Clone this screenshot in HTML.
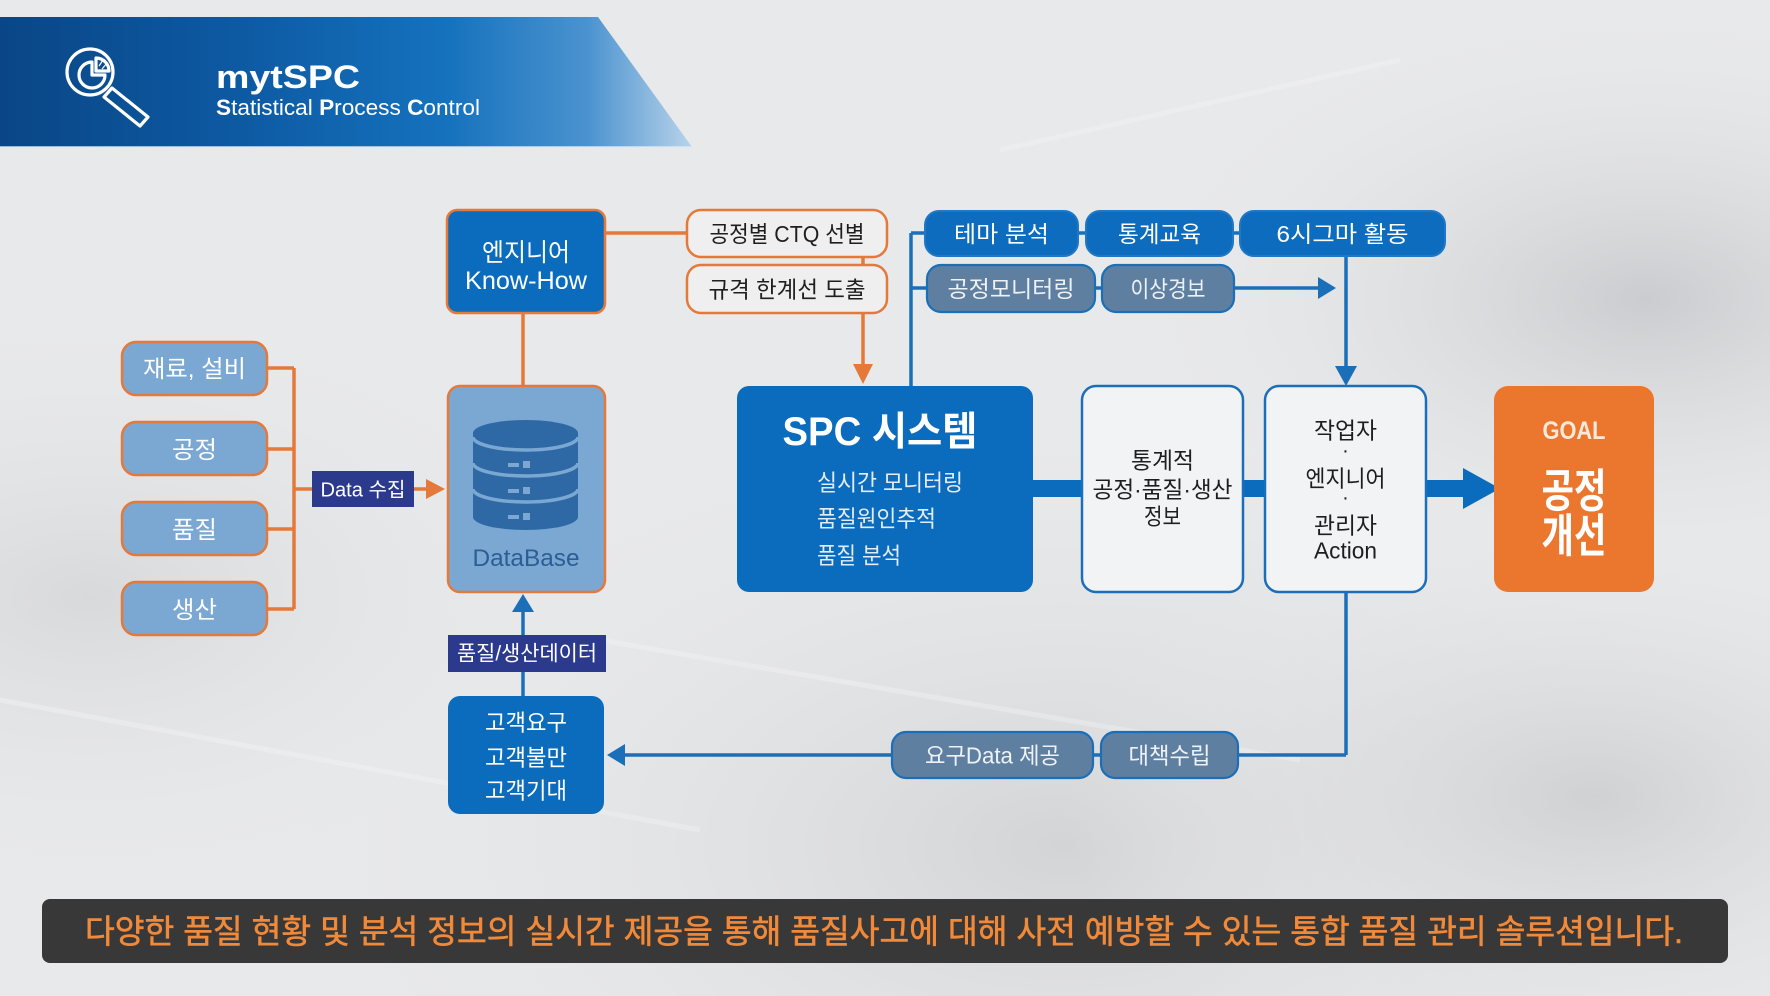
<!DOCTYPE html>
<html>
<head>
<meta charset="utf-8">
<style>
  html,body{margin:0;padding:0;background:#e8e9eb;}
  body{width:1770px;height:996px;overflow:hidden;}
  svg{display:block;}
  text{font-family:"Liberation Sans","Noto Sans CJK KR",sans-serif;}
  .w{fill:#ffffff;}
  .k{fill:#1e1e1e;}
</style>
</head>
<body>
<svg width="1770" height="996" viewBox="0 0 1770 996" xmlns="http://www.w3.org/2000/svg">
  <defs>
    <linearGradient id="hdr" x1="0" y1="0" x2="1" y2="0">
      <stop offset="0" stop-color="#0a4686"/>
      <stop offset="0.35" stop-color="#0d5aa3"/>
      <stop offset="0.65" stop-color="#1672bd"/>
      <stop offset="0.85" stop-color="#4b93cf"/>
      <stop offset="1" stop-color="#b9d3ea"/>
    </linearGradient>
    <radialGradient id="bg1" cx="0.93" cy="0.3" r="0.3">
      <stop offset="0" stop-color="#cbcccf"/>
      <stop offset="1" stop-color="#e8e9eb" stop-opacity="0"/>
    </radialGradient>
    <radialGradient id="bg2" cx="0.6" cy="0.85" r="0.45">
      <stop offset="0" stop-color="#d3d4d6"/>
      <stop offset="1" stop-color="#e8e9eb" stop-opacity="0"/>
    </radialGradient>
    <radialGradient id="bg3" cx="0.05" cy="0.6" r="0.3">
      <stop offset="0" stop-color="#d8d9db"/>
      <stop offset="1" stop-color="#e8e9eb" stop-opacity="0"/>
    </radialGradient>
    <radialGradient id="bg4" cx="0.9" cy="0.8" r="0.3">
      <stop offset="0" stop-color="#d0d1d3"/>
      <stop offset="1" stop-color="#e8e9eb" stop-opacity="0"/>
    </radialGradient>
  </defs>

  <!-- background -->
  <rect x="0" y="0" width="1770" height="996" fill="#e8e9eb"/>
  <rect x="0" y="0" width="1770" height="996" fill="url(#bg1)"/>
  <rect x="0" y="0" width="1770" height="996" fill="url(#bg2)"/>
  <rect x="0" y="0" width="1770" height="996" fill="url(#bg3)"/>
  <rect x="0" y="0" width="1770" height="996" fill="url(#bg4)"/>
  <g stroke="#f6f6f7" stroke-width="5" opacity="0.35" fill="none">
    <line x1="0" y1="700" x2="700" y2="830"/>
    <line x1="600" y1="640" x2="1300" y2="760"/>
    <line x1="1000" y1="150" x2="1400" y2="60"/>
  </g>

  <!-- header banner -->
  <polygon points="0,17 598,17 692,147 0,147" fill="url(#hdr)"/>
  <line x1="0" y1="147" x2="692" y2="147" stroke="#dfe9f3" stroke-width="2" opacity="0.7"/>
  <!-- magnifier icon -->
  <g fill="none" stroke="#ffffff" stroke-width="3.2" stroke-linejoin="round" stroke-linecap="round">
    <circle cx="90" cy="72" r="23"/>
    <path d="M92,62 A13,13 0 1,0 105,75 L92,75 Z"/>
    <path d="M96,58 A13,13 0 0,1 109,71 L96,71 Z"/>
    <polygon points="104,97 112,88 148,117 140,126"/>
  </g>
  <g stroke="#ffffff" stroke-width="1.2">
    <line x1="99" y1="66" x2="103" y2="60"/>
    <line x1="102" y1="69" x2="107" y2="63"/>
  </g>
  <text x="216" y="88" font-size="32" font-weight="bold" class="w" textLength="144" lengthAdjust="spacingAndGlyphs">mytSPC</text>
  <text x="216" y="115" font-size="22" class="w" textLength="264" lengthAdjust="spacingAndGlyphs"><tspan font-weight="bold">S</tspan>tatistical <tspan font-weight="bold">P</tspan>rocess <tspan font-weight="bold">C</tspan>ontrol</text>

  <!-- ========== orange connectors ========== -->
  <g stroke="#e4793a" stroke-width="3.5" fill="none">
    <line x1="294" y1="368" x2="294" y2="609"/>
    <line x1="267" y1="368" x2="294" y2="368"/>
    <line x1="267" y1="449" x2="294" y2="449"/>
    <line x1="267" y1="529" x2="294" y2="529"/>
    <line x1="267" y1="609" x2="294" y2="609"/>
    <line x1="294" y1="489" x2="312" y2="489"/>
    <line x1="414" y1="489" x2="428" y2="489"/>
    <line x1="523" y1="313" x2="523" y2="386"/>
    <line x1="605" y1="233" x2="687" y2="233"/>
    <line x1="863" y1="257" x2="863" y2="265"/>
    <line x1="863" y1="313" x2="863" y2="366"/>
  </g>
  <polygon points="426,479 445,489 426,499" fill="#e4793a"/>
  <polygon points="853,364 873,364 863,384" fill="#e4793a"/>

  <!-- ========== blue connectors ========== -->
  <g stroke="#1b6fb9" stroke-width="3.5" fill="none">
    <line x1="911" y1="233" x2="911" y2="386"/>
    <line x1="911" y1="233" x2="925" y2="233"/>
    <line x1="911" y1="288" x2="927" y2="288"/>
    <line x1="1078" y1="233" x2="1086" y2="233"/>
    <line x1="1233" y1="233" x2="1240" y2="233"/>
    <line x1="1095" y1="288" x2="1102" y2="288"/>
    <line x1="1234" y1="288" x2="1320" y2="288"/>
    <line x1="1346" y1="255" x2="1346" y2="368"/>
    <line x1="1346" y1="592" x2="1346" y2="755"/>
    <line x1="1238" y1="755" x2="1346" y2="755"/>
    <line x1="1093" y1="755" x2="1101" y2="755"/>
    <line x1="620" y1="755" x2="892" y2="755"/>
    <line x1="523" y1="608" x2="523" y2="696"/>
  </g>
  <polygon points="1318,277 1336,288 1318,299" fill="#1b6fb9"/>
  <polygon points="1335,366 1357,366 1346,386" fill="#1b6fb9"/>
  <polygon points="625,744 607,755 625,766" fill="#1b6fb9"/>
  <polygon points="512,612 534,612 523,594" fill="#1b6fb9"/>
  <!-- thick bar + big arrow -->
  <rect x="1030" y="480" width="56" height="17" fill="#0b6cbd"/>
  <rect x="1240" y="480" width="28" height="17" fill="#0b6cbd"/>
  <rect x="1423" y="480" width="42" height="17" fill="#0b6cbd"/>
  <polygon points="1463,468 1500,488.5 1463,509" fill="#0b6cbd"/>

  <!-- ========== left input boxes ========== -->
  <g fill="#7ba8d2" stroke="#e4793a" stroke-width="2.5">
    <rect x="122" y="342" width="145" height="53" rx="14"/>
    <rect x="122" y="422" width="145" height="53" rx="14"/>
    <rect x="122" y="502" width="145" height="53" rx="14"/>
    <rect x="122" y="582" width="145" height="53" rx="14"/>
  </g>
  <text x="194.5" y="377" font-size="24" class="w" text-anchor="middle" textLength="103" lengthAdjust="spacingAndGlyphs">재료, 설비</text>
  <text x="194.5" y="458" font-size="24" class="w" text-anchor="middle" textLength="45" lengthAdjust="spacingAndGlyphs">공정</text>
  <text x="194.5" y="538" font-size="24" class="w" text-anchor="middle" textLength="45" lengthAdjust="spacingAndGlyphs">품질</text>
  <text x="194.5" y="618" font-size="24" class="w" text-anchor="middle" textLength="45" lengthAdjust="spacingAndGlyphs">생산</text>

  <!-- Data 수집 label -->
  <rect x="312" y="471" width="102" height="36" fill="#2c3a8e"/>
  <text x="363" y="496.5" font-size="20" class="w" text-anchor="middle" textLength="85" lengthAdjust="spacingAndGlyphs">Data 수집</text>

  <!-- Know-How box -->
  <rect x="447" y="210" width="158" height="103" rx="10" fill="#0b6cbd" stroke="#e4793a" stroke-width="2.5"/>
  <text x="526" y="261" font-size="25" class="w" text-anchor="middle" textLength="88" lengthAdjust="spacingAndGlyphs">엔지니어</text>
  <text x="526" y="289" font-size="25" class="w" text-anchor="middle" textLength="122" lengthAdjust="spacingAndGlyphs">Know-How</text>

  <!-- DataBase box -->
  <rect x="448" y="386" width="157" height="206" rx="12" fill="#7ba8d2" stroke="#e4793a" stroke-width="2.5"/>
  <g fill="#2e69a5">
    <rect x="473" y="433" width="105" height="84"/>
    <ellipse cx="525.5" cy="433" rx="52.5" ry="13"/>
    <ellipse cx="525.5" cy="517" rx="52.5" ry="13"/>
  </g>
  <g fill="none" stroke="#7ba8d2" stroke-width="3.5">
    <path d="M473,437 A52.5,13 0 0,0 578,437"/>
    <path d="M473,463 A52.5,13 0 0,0 578,463"/>
    <path d="M473,489 A52.5,13 0 0,0 578,489"/>
  </g>
  <g fill="#7ba8d2">
    <rect x="508" y="463" width="11" height="4"/>
    <rect x="523" y="461" width="7" height="7"/>
    <rect x="508" y="489" width="11" height="4"/>
    <rect x="523" y="487" width="7" height="7"/>
    <rect x="508" y="515" width="11" height="4"/>
    <rect x="523" y="513" width="7" height="7"/>
  </g>
  <text x="526" y="566" font-size="24" fill="#2b5e96" text-anchor="middle" textLength="107" lengthAdjust="spacingAndGlyphs">DataBase</text>

  <!-- 품질/생산데이터 label -->
  <rect x="448" y="635" width="158" height="37" fill="#2c3a8e"/>
  <text x="527" y="660.5" font-size="21" class="w" text-anchor="middle" textLength="140" lengthAdjust="spacingAndGlyphs">품질/생산데이터</text>

  <!-- customer box -->
  <rect x="448" y="696" width="156" height="118" rx="12" fill="#0b6cbd"/>
  <text x="526" y="730.5" font-size="23" class="w" text-anchor="middle" textLength="82" lengthAdjust="spacingAndGlyphs">고객요구</text>
  <text x="526" y="765.5" font-size="23" class="w" text-anchor="middle" textLength="82" lengthAdjust="spacingAndGlyphs">고객불만</text>
  <text x="526" y="798.5" font-size="23" class="w" text-anchor="middle" textLength="82" lengthAdjust="spacingAndGlyphs">고객기대</text>

  <!-- CTQ / 규격 boxes -->
  <g fill="#efefef" stroke="#e4793a" stroke-width="2.5">
    <rect x="687" y="210" width="200" height="47" rx="14"/>
    <rect x="687" y="265" width="200" height="48" rx="14"/>
  </g>
  <text x="787" y="242" font-size="23" class="k" text-anchor="middle" textLength="155" lengthAdjust="spacingAndGlyphs">공정별 CTQ 선별</text>
  <text x="787" y="297.5" font-size="23" class="k" text-anchor="middle" textLength="157" lengthAdjust="spacingAndGlyphs">규격 한계선 도출</text>

  <!-- top blue boxes -->
  <g fill="#0d6cbd" stroke="#1f78c6" stroke-width="2">
    <rect x="925" y="211" width="153" height="45" rx="14"/>
    <rect x="1086" y="211" width="147" height="45" rx="14"/>
    <rect x="1240" y="211" width="205" height="45" rx="14"/>
  </g>
  <text x="1001.5" y="242" font-size="23" class="w" text-anchor="middle" textLength="95" lengthAdjust="spacingAndGlyphs">테마 분석</text>
  <text x="1159.5" y="242" font-size="23" class="w" text-anchor="middle" textLength="83" lengthAdjust="spacingAndGlyphs">통계교육</text>
  <text x="1342.5" y="242" font-size="23" class="w" text-anchor="middle" textLength="132" lengthAdjust="spacingAndGlyphs">6시그마 활동</text>

  <!-- gray-blue boxes -->
  <g fill="#5f7fa0" stroke="#1b6fb9" stroke-width="2.2">
    <rect x="927" y="265" width="168" height="47" rx="14"/>
    <rect x="1102" y="265" width="132" height="47" rx="14"/>
    <rect x="892" y="732" width="201" height="46" rx="14"/>
    <rect x="1101" y="732" width="137" height="46" rx="14"/>
  </g>
  <text x="1011" y="297" font-size="23" fill="#eef2f7" text-anchor="middle" textLength="127" lengthAdjust="spacingAndGlyphs">공정모니터링</text>
  <text x="1168" y="297" font-size="23" fill="#eef2f7" text-anchor="middle" textLength="75" lengthAdjust="spacingAndGlyphs">이상경보</text>
  <text x="992.5" y="763.5" font-size="23" fill="#eef2f7" text-anchor="middle" textLength="135" lengthAdjust="spacingAndGlyphs">요구Data 제공</text>
  <text x="1169.5" y="763.5" font-size="23" fill="#eef2f7" text-anchor="middle" textLength="82" lengthAdjust="spacingAndGlyphs">대책수립</text>

  <!-- SPC system box -->
  <rect x="737" y="386" width="296" height="206" rx="12" fill="#0b6cbd"/>
  <text x="880" y="445" font-size="40" font-weight="bold" class="w" text-anchor="middle" textLength="195" lengthAdjust="spacingAndGlyphs">SPC 시스템</text>
  <text x="817" y="490.5" font-size="23" fill="#e3ecf7" textLength="146" lengthAdjust="spacingAndGlyphs">실시간 모니터링</text>
  <text x="817" y="526.5" font-size="23" fill="#e3ecf7" textLength="119" lengthAdjust="spacingAndGlyphs">품질원인추적</text>
  <text x="817" y="563.5" font-size="23" fill="#e3ecf7" textLength="84" lengthAdjust="spacingAndGlyphs">품질 분석</text>

  <!-- 통계적 box -->
  <rect x="1082" y="386" width="161" height="206" rx="14" fill="#f2f3f4" stroke="#1b6fb9" stroke-width="2.5"/>
  <text x="1162.5" y="468.5" font-size="23" class="k" text-anchor="middle" textLength="63" lengthAdjust="spacingAndGlyphs">통계적</text>
  <text x="1162.5" y="497.5" font-size="23" class="k" text-anchor="middle" textLength="140" lengthAdjust="spacingAndGlyphs">공정·품질·생산</text>
  <text x="1162.5" y="524.5" font-size="23" class="k" text-anchor="middle" textLength="37" lengthAdjust="spacingAndGlyphs">정보</text>

  <!-- 작업자 box -->
  <rect x="1265" y="386" width="161" height="206" rx="14" fill="#f2f3f4" stroke="#1b6fb9" stroke-width="2.5"/>
  <text x="1345.5" y="438.5" font-size="23" class="k" text-anchor="middle" textLength="63" lengthAdjust="spacingAndGlyphs">작업자</text>
  <text x="1345.5" y="457" font-size="20" class="k" text-anchor="middle">·</text>
  <text x="1345.5" y="486.5" font-size="23" class="k" text-anchor="middle" textLength="80" lengthAdjust="spacingAndGlyphs">엔지니어</text>
  <text x="1345.5" y="504" font-size="20" class="k" text-anchor="middle">·</text>
  <text x="1345.5" y="533.5" font-size="23" class="k" text-anchor="middle" textLength="63" lengthAdjust="spacingAndGlyphs">관리자</text>
  <text x="1345.5" y="558.5" font-size="23" class="k" text-anchor="middle" textLength="63" lengthAdjust="spacingAndGlyphs">Action</text>

  <!-- GOAL box -->
  <rect x="1494" y="386" width="160" height="206" rx="14" fill="#eb772f"/>
  <text x="1574" y="439" font-size="25" font-weight="bold" fill="#fbe9dc" text-anchor="middle" textLength="63" lengthAdjust="spacingAndGlyphs">GOAL</text>
  <text x="1574" y="507" font-size="46" font-weight="bold" class="w" text-anchor="middle" textLength="65" lengthAdjust="spacingAndGlyphs">공정</text>
  <text x="1574" y="552" font-size="46" font-weight="bold" class="w" text-anchor="middle" textLength="65" lengthAdjust="spacingAndGlyphs">개선</text>

  <!-- bottom banner -->
  <rect x="42" y="899" width="1686" height="64" rx="8" fill="#383838"/>
  <text x="85" y="943" font-size="33" fill="#f08a3a" stroke="#f08a3a" stroke-width="0.6" textLength="1598" lengthAdjust="spacingAndGlyphs">다양한 품질 현황 및 분석 정보의 실시간 제공을 통해 품질사고에 대해 사전 예방할 수 있는 통합 품질 관리 솔루션입니다.</text>
</svg>
</body>
</html>
